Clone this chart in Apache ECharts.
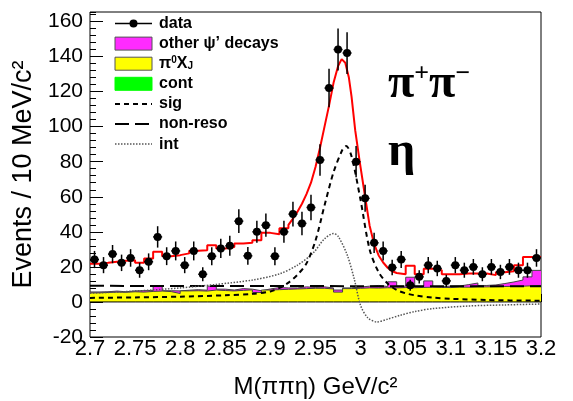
<!DOCTYPE html>
<html><head><meta charset="utf-8">
<script src="https://cdn.jsdelivr.net/npm/echarts@6/dist/echarts.min.js"></script>
<style>html,body{margin:0;padding:0;background:#fff}#c{width:573px;height:401px}</style>
</head><body><div id="c"></div>
<script>
// ---- binning (10 MeV bins from 2.70 to 3.20 GeV) ----
const binLo = 2.70, binW = 0.01, nBins = 50;

// ---- data: events per bin and their errors ----
const counts = [24.2, 21.0, 27.3, 22.3, 25.1, 18.1, 22.9, 37.1, 26.1, 29.1,
                21.0, 29.1, 15.8, 26.1, 30.5, 32.0, 46.1, 26.3, 40.0, 43.8,
                26.1, 40.0, 50.1, 44.8, 53.9, 81.0, 122.0, 144.0, 142.0, 80.0,
                59.1, 33.7, 29.1, 19.6, 24.2, 9.5, 14.3, 21.0, 19.1, 12.0,
                21.0, 18.1, 20.0, 15.8, 20.0, 17.1, 20.0, 18.1, 18.1, 25.1];
const errs   = [4.9, 4.6, 5.2, 4.7, 5.0, 4.3, 4.8, 6.1, 5.1, 5.4,
                4.6, 5.4, 4.0, 5.1, 5.5, 5.7, 6.8, 5.1, 6.3, 6.6,
                5.1, 6.3, 7.1, 6.7, 7.3, 9.0, 11.0, 12.0, 11.9, 8.9,
                7.7, 5.8, 5.4, 4.4, 4.9, 3.1, 3.8, 4.6, 4.4, 3.5,
                4.6, 4.3, 4.5, 4.0, 4.5, 4.1, 4.5, 4.3, 4.3, 5.0];

// ---- background histograms (stacked: cont, pi0 X_J, other psi' decays) ----
const contBg = [0,0,0,0,0,0,0,0,0,0, 0,0,0,0,0,0,0,0,0,0, 0,0,0,0,0,0,0,0,0,0,
                0,0,0,0,0,0,0,0,0,0, 0,0,0,0,0,0,0,0,0,0];
const pi0XJ  = [5.2, 5.4, 5.6, 5.5, 5.8, 5.6, 6.0, 6.2, 5.9, 4.8,
                6.3, 6.4, 6.2, 6.8, 6.5, 6.3, 6.6, 6.9, 5.4, 6.8,
                7.0, 7.2, 7.4, 7.6, 7.8, 7.8, 7.4, 5.6, 7.6, 7.8,
                8.0, 7.9, 8.1, 8.0, 8.2, 8.1, 8.3, 8.4, 8.3, 8.2,
                8.5, 8.4, 8.6, 8.6, 8.7, 8.8, 8.9, 9.0, 9.2, 9.4];
const otherPsi = [0.5, 0.4, 0.6, 0.3, 0.5, 0.8, 0.6, 2.8, 0.5, 1.5,
                  0.4, 0.6, 0.5, 2.2, 0.8, 0.5, 1.0, 0.4, 1.0, 0.6,
                  1.2, 0.8, 0.6, 1.0, 0.5, 0.8, 0.6, 1.2, 0.4, 0.7,
                  1.0, 1.5, 0.7, 3.5, 0.8, 6.0, 0.6, 3.6, 0.5, 0.8,
                  0.6, 1.5, 2.2, 0.8, 1.0, 1.7, 2.5, 3.5, 5.1, 8.6];

// ---- fit components ----
const sigX = [2.70, 2.75, 2.80, 2.85, 2.88, 2.90, 2.91, 2.92, 2.93, 2.94, 2.95, 2.96, 2.97, 2.98, 2.984, 2.99, 3.00, 3.01, 3.02, 3.03, 3.04, 3.05, 3.06, 3.08, 3.10, 3.14, 3.20];
const sigY = [2.3, 2.6, 3.0, 3.8, 4.6, 6.0, 8.0, 11.0, 15.5, 22.0, 35.0, 55.0, 74.0, 87.0, 89.0, 83.0, 58.0, 30.0, 17.0, 10.5, 6.8, 4.9, 3.8, 2.5, 1.8, 1.1, 0.7];

const intX = [2.70, 2.75, 2.80, 2.84, 2.88, 2.91, 2.93, 2.947, 2.96, 2.97, 2.975, 2.985, 2.993, 3.00, 3.008, 3.018, 3.03, 3.044, 3.06, 3.08, 3.12, 3.16, 3.20];
const intY = [5.0, 6.2, 8.0, 10.0, 12.5, 16.0, 21.0, 27.7, 36.0, 39.0, 37.5, 27.0, 13.0, -2.0, -9.0, -11.4, -9.8, -7.6, -5.5, -3.8, -2.3, -1.7, -1.2];

const nonResoX = [2.70, 2.80, 2.90, 3.00, 3.10, 3.20];
const nonResoY = [9.2, 9.1, 9.1, 9.0, 9.0, 9.0];

// total fit (red): stepped parts (per bin) and smooth peak part
const redLeft  = [21.8, 22.3, 22.9, 23.5, 23.8, 22.3, 24.8, 28.6, 26.1, 26.7,
                  27.7, 29.2, 29.5, 32.4, 30.5, 31.4, 33.3, 33.7, 35.2, 39.4,
                  38.6, 42.0];                       // bins 2.70 .. 2.92
const redPeakX = [2.92, 2.925, 2.93, 2.935, 2.94, 2.945, 2.95, 2.955, 2.96, 2.965, 2.97, 2.975, 2.979, 2.983, 2.987, 2.99, 2.994, 2.999, 3.005, 3.01, 3.015, 3.02, 3.025, 3.03, 3.035, 3.04];
const redPeakY = [44.0, 47.5, 51.5, 56.0, 61.5, 68.0, 77.0, 88.0, 100.0, 112.0, 125.0, 134.5, 138.5, 136.5, 128.0, 117.0, 98.0, 80.0, 60.0, 43.5, 33.0, 26.5, 22.5, 19.5, 17.5, 16.5];
const redRightStart = 3.04;
const redRight = [15.8, 20.6, 15.8, 19.0, 18.1, 15.8, 15.8, 16.2, 16.2, 16.2,
                  15.3, 17.0, 17.5, 21.0, 25.7, 25.7]; // bins 3.04 .. 3.20

// ---- build series data ----
const centers = [];
for (let i = 0; i < nBins; i++) centers.push(binLo + (i + 0.5) * binW);
const dataPts = counts.map((v, i) => [centers[i], v, errs[i]]);

function stepData(vals) {
  const d = [];
  for (let i = 0; i < vals.length; i++) d.push([binLo + i * binW, vals[i]]);
  d.push([binLo + vals.length * binW, vals[vals.length - 1]]);
  return d;
}
// cumulative stack tops (ROOT THStack style: each drawn from zero, tallest first)
const stackYellow = pi0XJ.map((v, i) => v + contBg[i]);
const stackMagenta = otherPsi.map((v, i) => v + stackYellow[i]);

const redPts = [];
redLeft.forEach((v, i) => { const lo = binLo + i * binW; redPts.push([lo, v], [lo + binW, v]); });
redPeakX.forEach((x, i) => redPts.push([x, redPeakY[i]]));
redRight.forEach((v, i) => { const lo = redRightStart + i * binW; redPts.push([lo, v], [lo + binW, v]); });

const zip = (xs, ys) => xs.map((x, i) => [x, ys[i]]);

const FONT = 'Liberation Sans';
const chart = echarts.init(document.getElementById('c'), null, {renderer: 'canvas'});

const minorTickAxisX = {
  type: 'value', min: 2.7, max: 3.2, interval: 0.01, position: 'bottom',
  axisLine: {show: false}, splitLine: {show: false}, axisLabel: {show: false},
  axisTick: {show: true, inside: true, length: 4, lineStyle: {color: '#000', width: 1}}
};
const minorTickAxisY = {
  type: 'value', min: -20, max: 165.4, interval: 4, position: 'left',
  axisLine: {show: false}, splitLine: {show: false}, axisLabel: {show: false},
  axisTick: {show: true, inside: true, length: 6, lineStyle: {color: '#000', width: 1}}
};

const legendRows = [23.5, 43.6, 63.7, 83.8, 103.9, 124.0, 144.1];
const lx0 = 115, lx1 = 152, tx = 159;
const legendText = (y, text) => ({
  type: 'text', x: tx, y: y, z: 100,
  style: {text: text, font: 'bold 16px ' + FONT, fill: '#000', verticalAlign: 'middle', align: 'left'}
});

const histSeries = (name, vals, color, z) => ({
  name: name, type: 'line', step: 'end', data: stepData(vals), showSymbol: false,
  lineStyle: {color: '#444', width: 1}, areaStyle: {color: color, opacity: 1, origin: 0}, z: z
});

const option = {
  animation: false,
  backgroundColor: '#fff',
  grid: {left: 90, right: 32, top: 12, bottom: 64, show: true, borderColor: '#000', borderWidth: 1,
         backgroundColor: 'transparent', containLabel: false, outerBoundsMode: 'none'},
  xAxis: [{
    type: 'value', min: 2.7, max: 3.2, interval: 0.05, position: 'bottom',
    axisLine: {show: false}, splitLine: {show: false},
    axisTick: {show: true, inside: true, length: 8, lineStyle: {color: '#000', width: 1}},
    axisLabel: {color: '#000', fontSize: 22, fontFamily: FONT, margin: 1, interval: 0},
    name: 'M(ππη) GeV/c²', nameLocation: 'middle', nameGap: 38,
    nameTextStyle: {color: '#000', fontSize: 24, fontFamily: FONT}
  }, minorTickAxisX],
  yAxis: [{
    type: 'value', min: -20, max: 165.4, interval: 20, position: 'left',
    axisLine: {show: false}, splitLine: {show: false},
    axisTick: {show: true, inside: true, length: 13, lineStyle: {color: '#000', width: 1}},
    axisLabel: {color: '#000', fontSize: 21, fontFamily: FONT, margin: 7, showMaxLabel: false},
    name: 'Events / 10 MeV/c²', nameLocation: 'middle', nameGap: 44, nameRotate: 90,
    nameTextStyle: {color: '#000', fontSize: 27, fontFamily: FONT}
  }, minorTickAxisY],
  series: [
    histSeries('other ψ’ decays', stackMagenta, '#ff2bff', 1),
    histSeries('π0XJ', stackYellow, '#ffff00', 2),
    {name: 'cont', type: 'line', step: 'end', data: stepData(contBg), showSymbol: false,
     lineStyle: {color: '#000', width: 1}, areaStyle: {color: '#00ff00', opacity: 1, origin: 0}, z: 2},
    {name: 'non-reso', type: 'line', data: zip(nonResoX, nonResoY), showSymbol: false,
     lineStyle: {color: '#000', width: 2, type: [14, 6]}, z: 3},
    {name: 'int', type: 'line', data: zip(intX, intY), showSymbol: false, smooth: 0.3,
     lineStyle: {color: '#555', width: 1.5, type: [1.5, 1.5]}, z: 3},
    {name: 'sig', type: 'line', data: zip(sigX, sigY), showSymbol: false, smooth: 0.3,
     lineStyle: {color: '#000', width: 2, type: [5, 4]}, z: 4},
    {name: 'fit', type: 'line', data: redPts, showSymbol: false,
     lineStyle: {color: '#ff0000', width: 2}, z: 5},
    {name: 'data', type: 'custom', data: dataPts, z: 6,
     encode: {x: 0, y: 1},
     renderItem: function (params, api) {
       const x = api.value(0), y = api.value(1), e = api.value(2);
       const p = api.coord([x, y]);
       const pt = api.coord([x, y + e]), pb = api.coord([x, y - e]);
       const pl = api.coord([x - binW / 2, y]), pr = api.coord([x + binW / 2, y]);
       return {type: 'group', children: [
         {type: 'line', shape: {x1: pt[0], y1: pt[1], x2: pb[0], y2: pb[1]}, style: {stroke: '#000', lineWidth: 1.5}},
         {type: 'line', shape: {x1: pl[0], y1: pl[1], x2: pr[0], y2: pr[1]}, style: {stroke: '#000', lineWidth: 1.5}},
         {type: 'circle', shape: {cx: p[0], cy: p[1], r: 4}, style: {fill: '#000'}}
       ]};
     }}
  ],
  graphic: [
    // legend
    {type: 'line', z: 100, shape: {x1: lx0, y1: legendRows[0], x2: lx1, y2: legendRows[0]}, style: {stroke: '#000', lineWidth: 1.5}},
    {type: 'circle', z: 100, shape: {cx: (lx0 + lx1) / 2, cy: legendRows[0], r: 4}, style: {fill: '#000'}},
    legendText(legendRows[0], 'data'),
    {type: 'rect', z: 100, shape: {x: lx0, y: legendRows[1] - 6.5, width: lx1 - lx0, height: 13}, style: {fill: '#ff2bff', stroke: '#555', lineWidth: 1}},
    legendText(legendRows[1], 'other ψ’ decays'),
    {type: 'rect', z: 100, shape: {x: lx0, y: legendRows[2] - 6.5, width: lx1 - lx0, height: 13}, style: {fill: '#ffff00', stroke: '#555', lineWidth: 1}},
    {type: 'text', x: tx, y: legendRows[2], z: 100, style: {
      text: '{a|π}{b|0}{a|X}{c|J}', verticalAlign: 'middle', align: 'left',
      rich: {
        a: {font: 'bold 16px ' + FONT, fill: '#000', verticalAlign: 'middle'},
        b: {font: 'bold 10px ' + FONT, fill: '#000', verticalAlign: 'top'},
        c: {font: 'bold 10px ' + FONT, fill: '#000', verticalAlign: 'bottom'}
      }}},
    {type: 'rect', z: 100, shape: {x: lx0, y: legendRows[3] - 6.5, width: lx1 - lx0, height: 13}, style: {fill: '#00ff00', stroke: '#00ff00', lineWidth: 1}},
    legendText(legendRows[3], 'cont'),
    {type: 'line', z: 100, shape: {x1: lx0, y1: legendRows[4], x2: lx1, y2: legendRows[4]}, style: {stroke: '#000', lineWidth: 2, lineDash: [5, 4]}},
    legendText(legendRows[4], 'sig'),
    {type: 'line', z: 100, shape: {x1: lx0, y1: legendRows[5], x2: lx1, y2: legendRows[5]}, style: {stroke: '#000', lineWidth: 2, lineDash: [14, 6]}},
    legendText(legendRows[5], 'non-reso'),
    {type: 'line', z: 100, shape: {x1: lx0, y1: legendRows[6], x2: lx1, y2: legendRows[6]}, style: {stroke: '#555', lineWidth: 1.5, lineDash: [1.5, 1.5]}},
    legendText(legendRows[6], 'int'),
    // channel labels
    {type: 'text', x: 388, y: 61, z: 100, style: {
      text: '{p|π}{s|+}{p|π}{s|−}', align: 'left', verticalAlign: 'top',
      rich: {
        p: {font: 'bold 48px "Liberation Serif"', fill: '#000', verticalAlign: 'bottom'},
        s: {font: 'bold 26px "Liberation Serif"', fill: '#000', verticalAlign: 'top'}
      }}},
    {type: 'text', x: 388, y: 129, z: 100, style: {
      text: 'η', align: 'left', verticalAlign: 'top', font: 'bold 48px "Liberation Serif"', fill: '#000'}}
  ]
};
chart.setOption(option);
</script>
</body></html>
